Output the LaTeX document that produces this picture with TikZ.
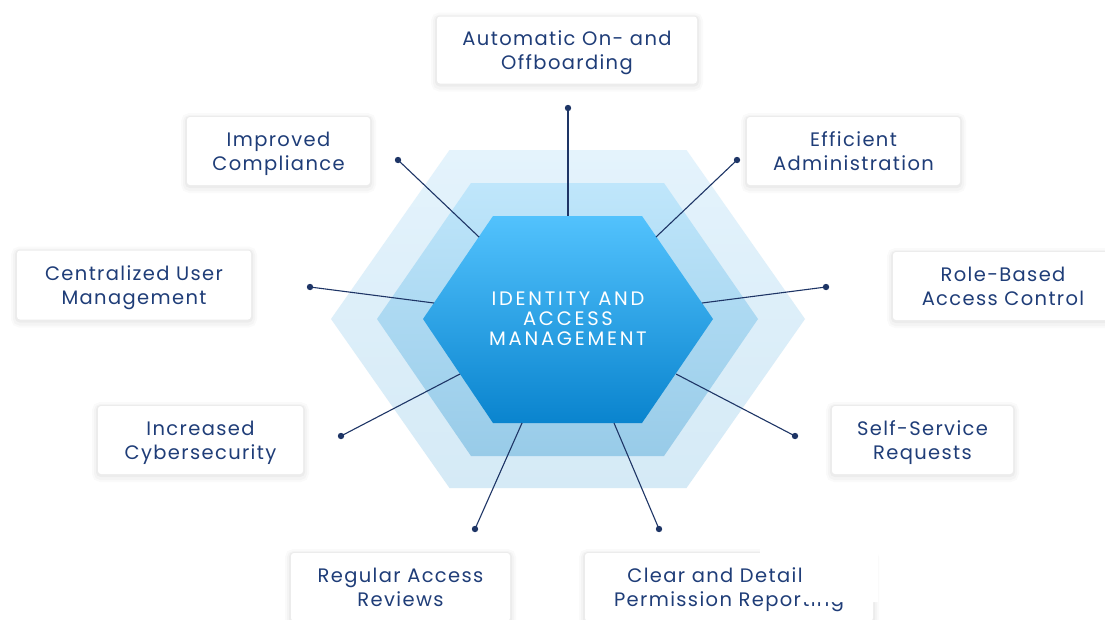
\documentclass[tikz,border=0pt]{standalone}
\usepackage{fontspec}
\setmainfont{Poppins}
\newfontfamily\cardfont[LetterSpace=7]{Poppins}
\newfontfamily\hexfont[LetterSpace=14]{Poppins}
\newcommand\cardstrut{\rule{0pt}{21pt}}
\newcommand\cardend{\rule[-5.5pt]{0pt}{5.5pt}}
\definecolor{navy}{HTML}{1F3D78}
\definecolor{linec}{HTML}{1E3566}
\definecolor{outtop}{HTML}{E4F3FC}
\definecolor{outbot}{HTML}{D5EAF6}
\definecolor{midtop}{HTML}{BFE6FB}
\definecolor{midbot}{HTML}{98CBE8}
\definecolor{intop}{HTML}{52C2FD}
\definecolor{inbot}{HTML}{0A84CE}
\tikzset{
  card/.style={fill=white, rounded corners=3pt, align=center, text=navy,
    font=\cardfont\fontsize{19.5}{24}\selectfont, inner sep=0pt,
    preaction={draw=black, draw opacity=0.02, line width=12pt, transform canvas={yshift=-2pt}},
    preaction={draw=black, draw opacity=0.025, line width=8pt, transform canvas={yshift=-2pt}},
    preaction={draw=black, draw opacity=0.03, line width=4pt, transform canvas={yshift=-1pt}}},
  conn/.style={draw=linec, line width=1.1pt},
  dotmark/.style={fill=linec},
}
\begin{document}
\begin{tikzpicture}[x=1pt,y=-1pt]
\useasboundingbox (0,0) rectangle (1105,619);
\fill[white] (0,0) rectangle (1105,619);
% hexagons
\shade[top color=outtop, bottom color=outbot] (449.5,150) -- (686.5,150) -- (805,319) -- (686.5,488) -- (449.5,488) -- (331,319) -- cycle;
\shade[top color=midtop, bottom color=midbot] (471,183) -- (664,183) -- (758,319) -- (664,456) -- (471,456) -- (377,319) -- cycle;
\shade[top color=intop, bottom color=inbot] (493,216) -- (642,216) -- (713,319) -- (642,423) -- (493,423) -- (423,319) -- cycle;
\node[text=white, align=center, font=\hexfont\fontsize{19.5}{20}\selectfont] (iam) at (568,319) {IDENTITY AND\\ACCESS\\MANAGEMENT};
% connector end points on the inner hexagon
\coordinate (h1) at (568,216);
\coordinate (h2) at (479,237);
\coordinate (h3) at (656,237);
\coordinate (h4) at (434,303);
\coordinate (h5) at (702,303);
\coordinate (h6) at (460,374);
\coordinate (h7) at (676,374);
\coordinate (h8) at (522,423);
\coordinate (h9) at (614,423);
% dots
\coordinate (d1) at (568,108);
\coordinate (d2) at (398,160);
\coordinate (d3) at (737,160);
\coordinate (d4) at (310,287);
\coordinate (d5) at (826,287);
\coordinate (d6) at (341,436);
\coordinate (d7) at (795,436);
\coordinate (d8) at (475,529);
\coordinate (d9) at (659,529);
\foreach \i in {1,...,9} {
  \draw[conn] (d\i) -- (h\i);
  \fill[dotmark] (d\i) circle (3.2pt);
}
% cards
\node[card, minimum width=260pt, minimum height=67pt] (c1) at (567,50) {\cardstrut Automatic On- and\\Offboarding\cardend};
\node[card, minimum width=183pt, minimum height=68pt] (c2) at (278.5,151) {\cardstrut Improved\\Compliance\cardend};
\node[card, minimum width=213pt, minimum height=68pt] (c3) at (853.5,151) {\cardstrut Efficient\\Administration\cardend};
\node[card, minimum width=234pt, minimum height=69pt] (c4) at (134,285) {\cardstrut Centralized User\\Management\cardend};
\node[card, minimum width=220pt, minimum height=68pt] (c5) at (1003,286) {\cardstrut Role-Based\\Access Control\cardend};
\node[card, minimum width=205pt, minimum height=68pt] (c6) at (200.5,440) {\cardstrut Increased\\Cybersecurity\cardend};
\node[card, minimum width=181pt, minimum height=68pt] (c7) at (922.5,440) {\cardstrut Self-Service\\Requests\cardend};
\node[card, minimum width=219pt, minimum height=68pt] (c8) at (400.5,587) {\cardstrut Regular Access\\Reviews\cardend};
\node[card, minimum width=288pt, minimum height=68pt] (c9) at (729,587) {\cardstrut Clear and Detailed\\Permission Reporting\cardend};
% white patch covering part of the last card, as in the picture
\fill[white] (760,536) -- (878,536) -- (878,602) -- (802,602) -- (802,553) -- (760,553) -- cycle;
\end{tikzpicture}
\end{document}
